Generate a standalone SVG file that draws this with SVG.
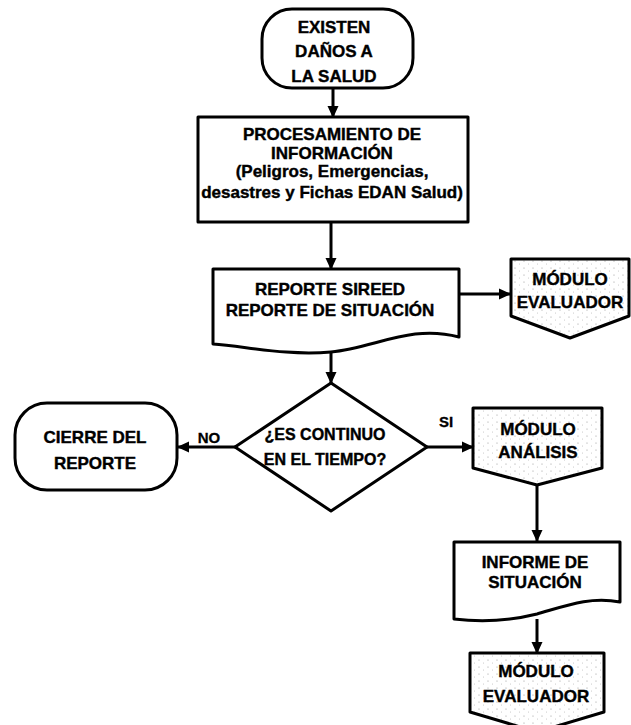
<svg xmlns="http://www.w3.org/2000/svg" width="631" height="725" viewBox="0 0 631 725">
<defs>
<marker id="ah" markerUnits="userSpaceOnUse" markerWidth="12" markerHeight="12" refX="11" refY="6" orient="auto">
<path d="M0,0.5 L12,6 L0,11.5 z" fill="#000"/>
</marker>
<pattern id="dots" width="9" height="7" patternUnits="userSpaceOnUse">
<rect width="9" height="7" fill="#fff"/>
<circle cx="2" cy="2" r="0.6" fill="#999"/>
<circle cx="6.5" cy="5" r="0.5" fill="#bbb"/>
</pattern>
<style>
.s{fill:#fff;stroke:#000;stroke-width:3;stroke-linejoin:round}
.m{fill:url(#dots);stroke:#000;stroke-width:3;stroke-linejoin:round}
.t{font-family:"Liberation Sans",Arial,sans-serif;font-weight:bold;font-size:17px;fill:#000;stroke:#000;stroke-width:0.4;text-anchor:middle}
.c{fill:none;stroke:#000;stroke-width:3;marker-end:url(#ah)}
.l{font-family:"Liberation Sans",Arial,sans-serif;font-weight:bold;font-size:15px;fill:#000;stroke:#000;stroke-width:0.3;text-anchor:middle}
</style>
</defs>
<rect width="631" height="725" fill="#fff"/>
<g id="connectors">
<line class="c" x1="333" y1="88" x2="333" y2="117"/>
<line class="c" x1="331" y1="222" x2="331" y2="269"/>
<line class="c" x1="331" y1="352" x2="331" y2="383"/>
<line class="c" x1="459" y1="294" x2="510" y2="294"/>
<line class="c" x1="235" y1="447" x2="178" y2="447"/>
<line class="c" x1="427" y1="447" x2="473" y2="447"/>
<line class="c" x1="537" y1="485" x2="537" y2="541"/>
<line class="c" x1="537" y1="619" x2="537" y2="653"/>
<text class="l" x="209" y="443">NO</text>
<text class="l" x="446" y="427">SI</text>
</g>
<g id="inicio">
<rect class="s" x="262" y="9" width="151" height="79" rx="30"/>
<text class="t" x="334" y="33">EXISTEN</text>
<text class="t" x="334" y="57">DAÑOS A</text>
<text class="t" x="334" y="82">LA SALUD</text>
</g>
<g id="procesamiento">
<rect class="s" x="198" y="117" width="270" height="105"/>
<text class="t" x="332" y="140">PROCESAMIENTO DE</text>
<text class="t" x="332" y="159">INFORMACIÓN</text>
<text class="t" x="332" y="177">(Peligros,  Emergencias,</text>
<text class="t" x="332" y="198">desastres y Fichas EDAN Salud)</text>
</g>
<g id="reporte">
<path class="s" d="M213,269 H459 V337 C410,324 375,348 331,352 C285,356 245,346 213,344 Z"/>
<text class="t" x="330" y="295">REPORTE SIREED</text>
<text class="t" x="330" y="316">REPORTE DE SITUACIÓN</text>
</g>
<g id="modulo-evaluador-1">
<path class="m" d="M511,259 H629 V316 L570,338 L511,316 Z"/>
<text class="t" x="570" y="285">MÓDULO</text>
<text class="t" x="570" y="308">EVALUADOR</text>
</g>
<g id="decision">
<path class="s" d="M331,383 L427,447 L331,511 L235,447 Z"/>
<text class="t" x="325" y="440" style="font-size:16px">¿ES CONTINUO</text>
<text class="t" x="325" y="465" style="font-size:16px">EN EL TIEMPO?</text>
</g>
<g id="cierre">
<rect class="s" x="15" y="403" width="162" height="87" rx="32"/>
<text class="t" x="95" y="443">CIERRE DEL</text>
<text class="t" x="95" y="469">REPORTE</text>
</g>
<g id="modulo-analisis">
<path class="m" d="M473,408 H602 V468 L537,485 L473,468 Z"/>
<text class="t" x="538" y="435">MÓDULO</text>
<text class="t" x="538" y="458">ANÁLISIS</text>
</g>
<g id="informe">
<path class="s" d="M454,542 H620 V602 C590,596 565,606 537,614 C505,622 480,622 454,619 Z"/>
<text class="t" x="535" y="568">INFORME DE</text>
<text class="t" x="535" y="588">SITUACIÓN</text>
</g>
<g id="modulo-evaluador-2">
<path class="m" d="M470,653 H604 V712 L537,732 L470,712 Z"/>
<text class="t" x="536" y="677">MÓDULO</text>
<text class="t" x="536" y="702">EVALUADOR</text>
</g>
</svg>
